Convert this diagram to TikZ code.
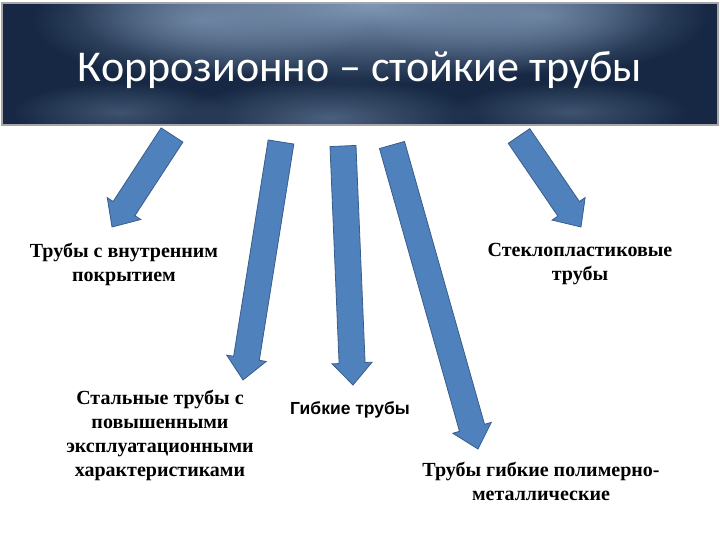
\documentclass[tikz,border=0pt]{standalone}
\usepackage{fontspec}
\setmainfont{Liberation Serif}
\newfontfamily\titlefont{Carlito}
\newfontfamily\sansfont{Liberation Sans}
\usetikzlibrary{calc,fadings}
\tikzfading[name=softspot, inner color=transparent!0, outer color=transparent!100]
\definecolor{arrowfill}{RGB}{79,129,189}
\definecolor{arrowline}{RGB}{56,93,138}
\definecolor{navy}{RGB}{22,40,68}
\definecolor{mist}{RGB}{140,165,195}
\tikzset{
  arrowstyle/.style={fill=arrowfill, draw=arrowline, line width=0.8pt, line join=miter},
  lbl/.style={font=\bfseries\fontsize{20}{24}\selectfont, align=center, text=black, inner sep=0pt},
  glow/.style={fill=mist, path fading=softspot},
}
\newcommand{\blockarrow}[2]{%
  \path ($(#2)!22pt!(#1)$) coordinate (hb);
  \filldraw[arrowstyle] ($(#1)!13pt!90:(#2)$) -- ($(hb)!13pt!-90:(#1)$) -- ($(hb)!20pt!-90:(#1)$) -- (#2)
    -- ($(hb)!20pt!90:(#1)$) -- ($(hb)!13pt!90:(#1)$) -- ($(#1)!13pt!-90:(#2)$) -- cycle;}
\begin{document}
\begin{tikzpicture}[x=1pt,y=-1pt]
\useasboundingbox (0,0) rectangle (720,540);
\fill[white] (0,0) rectangle (720,540);
% banner
\begin{scope}
\clip (2,3) rectangle (718,125);
\fill[navy] (2,3) rectangle (718,125);
\fill[glow, opacity=0.9] (370,5) ellipse (300 and 80);
\fill[glow, opacity=0.6] (200,20) ellipse (170 and 60);
\fill[glow, opacity=0.6] (540,15) ellipse (170 and 60);
\fill[glow, opacity=0.45] (330,118) ellipse (150 and 40);
\fill[glow, opacity=0.35] (120,112) ellipse (110 and 30);
\fill[glow, opacity=0.35] (570,112) ellipse (120 and 30);
\end{scope}
\draw[gray!70, line width=1.5pt] (2,3) rectangle (718,125);
\node[text=white, font=\titlefont\fontsize{44}{50}\selectfont, inner sep=0pt] (title) at (360,70) {Коррозионно – стойкие трубы};
% arrows
\coordinate (tA) at (172,135); \coordinate (pA) at (112,227);
\coordinate (tB) at (281,142); \coordinate (pB) at (243,380);
\coordinate (tC) at (343,146); \coordinate (pC) at (353,385);
\coordinate (tD) at (392,145); \coordinate (pD) at (478,449);
\coordinate (tE) at (519,136); \coordinate (pE) at (581,227);
\blockarrow{tA}{pA}
\blockarrow{tB}{pB}
\blockarrow{tC}{pC}
\blockarrow{tD}{pD}
\blockarrow{tE}{pE}
% labels
\node[lbl, anchor=north] (l1) at (124,243) {Трубы с внутренним\\покрытием};
\node[lbl, anchor=north] (l2) at (580,243) {Стеклопластиковые\\трубы};
\node[lbl, anchor=north] (l3) at (160,390) {Стальные трубы с\\повышенными\\эксплуатационными\\характеристиками};
\node[font=\sansfont\bfseries\fontsize{17.5}{20}\selectfont, inner sep=0pt, anchor=west] (l4) at (290,410) {Гибкие трубы};
\node[lbl, anchor=north] (l5) at (541,462) {Трубы гибкие полимерно-\\металлические};
\end{tikzpicture}
\end{document}
